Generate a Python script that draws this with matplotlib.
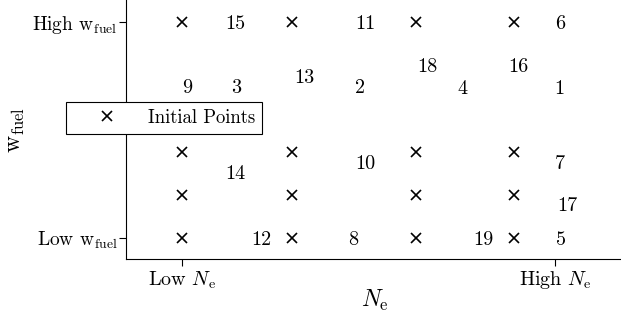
import numpy as np
import matplotlib.pyplot as plt
from matplotlib.lines import Line2D

plt.rcParams['font.family'] = 'serif'
plt.rcParams['font.serif'] = ['cmr10']
plt.rcParams['mathtext.fontset'] = 'cm'
plt.rcParams['axes.unicode_minus'] = False

# initial grid (Low = 0, High = 1)
init_x = [0.0, 0.295, 0.627, 0.890]
init_y = [0.0, 0.199, 0.398, 1.0]

# iteration labels and where they sit
labels = ['1', '2', '3', '4', '5', '6', '7', '8', '9', '10',
          '11', '12', '13', '14', '15', '16', '17', '18', '19']
lab_x = [1.013, 0.477, 0.145, 0.753, 1.016, 1.013, 1.013, 0.458, 0.013, 0.491,
         0.491, 0.214, 0.327, 0.142, 0.142, 0.901, 1.032, 0.657, 0.807]
lab_y = [0.699, 0.704, 0.704, 0.699, 0.0, 1.0, 0.352, 0.0, 0.704, 0.352,
         1.0, 0.0, 0.75, 0.306, 1.0, 0.801, 0.157, 0.801, 0.0]

xticklabels = [r'Low $N_\mathrm{e}$', r'High $N_\mathrm{e}$']
yticklabels = [r'Low $\mathrm{w}_\mathrm{fuel}$', r'High $\mathrm{w}_\mathrm{fuel}$']

fig = plt.figure(figsize=(6.21, 3.23), dpi=100)
ax = fig.add_axes([126/621, 1-259/323, 495/621, 259/323])

gx, gy = np.meshgrid(init_x, init_y)
ax.plot(gx.ravel(), gy.ravel(), 'x', color='black', ms=7, mew=1.2, clip_on=False)

for t, x, y in zip(labels, lab_x, lab_y):
    ax.text(x, y, t, ha='center', va='center_baseline', fontsize=14.5)

ax.set_xlim(-0.150, 1.177)
ax.set_ylim(-0.097, 1.102)
ax.set_xticks([0, 1])
ax.set_xticklabels(xticklabels, fontsize=14.5)
ax.set_yticks([0, 1])
ax.set_yticklabels(yticklabels, fontsize=14)
ax.tick_params(length=5, width=0.8, direction='out')
ax.tick_params(axis='y', pad=1)
ax.tick_params(axis='x', pad=2.5)
ax.spines['top'].set_visible(False)
ax.spines['right'].set_visible(False)

fig.text(375/621, 1-300/323, r'$N_\mathrm{e}$', ha='center', va='center', fontsize=17)
fig.text(16/621, 1-130/323, r'$\mathrm{w}_\mathrm{fuel}$', ha='center', va='center',
         rotation=90, fontsize=17)

h = Line2D([], [], ls='none', marker='x', color='black', ms=7, mew=1.2)
leg = fig.legend([h], ['Initial Points'], loc='center left',
                 bbox_to_anchor=(66/621, 1-118/323), bbox_transform=fig.transFigure,
                 borderaxespad=0, fancybox=False, framealpha=1, edgecolor='black',
                 fontsize=13.5, handlelength=3.6, handletextpad=0.35, borderpad=0.4)
leg.get_frame().set_linewidth(0.8)

fig.savefig('out.png', dpi=100)
